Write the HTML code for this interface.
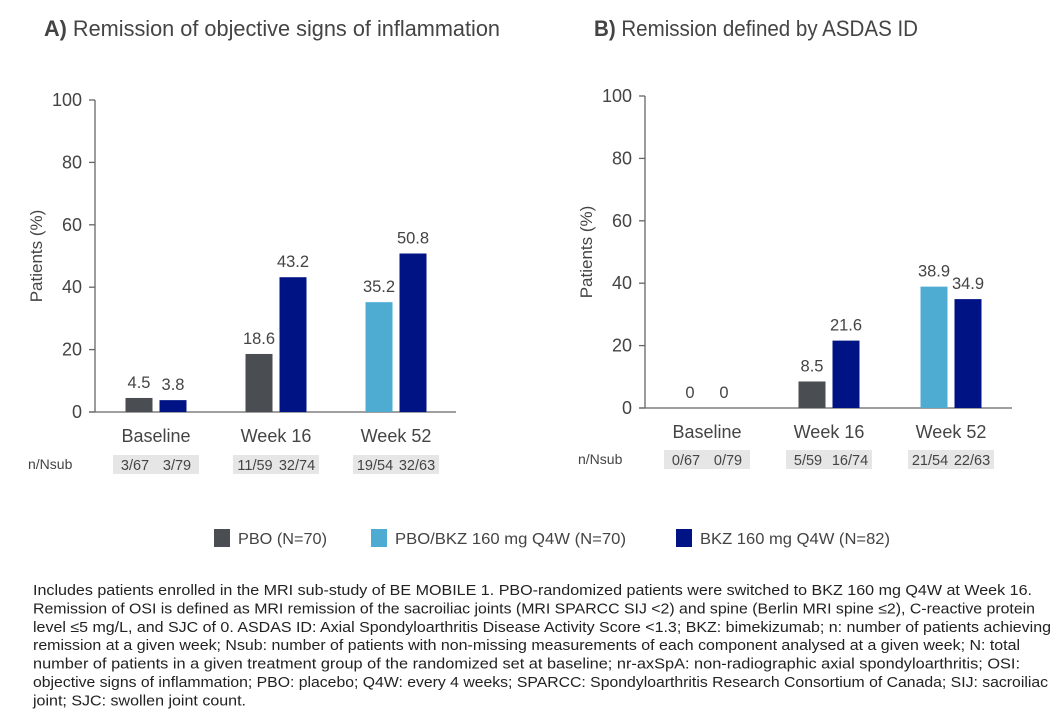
<!DOCTYPE html>
<html><head><meta charset="utf-8"><style>
html,body{margin:0;padding:0;background:#fff;}
svg{display:block;font-family:"Liberation Sans",sans-serif;}
</style></head><body>
<svg id="chart" width="1062" height="720" viewBox="0 0 1062 720">
<text x="44" y="36" font-size="22" fill="#444" textLength="456" lengthAdjust="spacingAndGlyphs"><tspan font-weight="bold">A)</tspan> Remission of objective signs of inflammation</text>
<text x="594" y="36" font-size="22" fill="#444" textLength="324" lengthAdjust="spacingAndGlyphs"><tspan font-weight="bold">B)</tspan> Remission defined by ASDAS ID</text>
<g id="pa"></g>
<g id="pb"></g>
<g>
<g><rect x="214" y="529" width="16" height="18" fill="#4a4d52"/><text x="238" y="544" font-size="16" fill="#444" textLength="89" lengthAdjust="spacingAndGlyphs">PBO (N=70)</text></g>
<g><rect x="371" y="529" width="16" height="18" fill="#4eacd3"/><text x="395" y="544" font-size="16" fill="#444" textLength="231" lengthAdjust="spacingAndGlyphs">PBO/BKZ 160 mg Q4W (N=70)</text></g>
<g><rect x="676" y="529" width="16" height="18" fill="#001385"/><text x="700" y="544" font-size="16" fill="#444" textLength="190" lengthAdjust="spacingAndGlyphs">BKZ 160 mg Q4W (N=82)</text></g>
</g>
<g font-size="14.5" fill="#222">
<text x="33" y="595" textLength="999" lengthAdjust="spacingAndGlyphs">Includes patients enrolled in the MRI sub-study of BE MOBILE 1. PBO-randomized patients were switched to BKZ 160 mg Q4W at Week 16.</text>
<text x="33" y="613.4" textLength="1002" lengthAdjust="spacingAndGlyphs">Remission of OSI is defined as MRI remission of the sacroiliac joints (MRI SPARCC SIJ &lt;2) and spine (Berlin MRI spine ≤2), C-reactive protein</text>
<text x="33" y="631.8" textLength="1018" lengthAdjust="spacingAndGlyphs">level ≤5 mg/L, and SJC of 0. ASDAS ID: Axial Spondyloarthritis Disease Activity Score &lt;1.3; BKZ: bimekizumab; n: number of patients achieving</text>
<text x="33" y="650.2" textLength="987" lengthAdjust="spacingAndGlyphs">remission at a given week; Nsub: number of patients with non-missing measurements of each component analysed at a given week; N: total</text>
<text x="33" y="668.6" textLength="987" lengthAdjust="spacingAndGlyphs">number of patients in a given treatment group of the randomized set at baseline; nr-axSpA: non-radiographic axial spondyloarthritis; OSI:</text>
<text x="33" y="687" textLength="1015" lengthAdjust="spacingAndGlyphs">objective signs of inflammation; PBO: placebo; Q4W: every 4 weeks; SPARCC: Spondyloarthritis Research Consortium of Canada; SIJ: sacroiliac</text>
<text x="33" y="705.4" textLength="213" lengthAdjust="spacingAndGlyphs">joint; SJC: swollen joint count.</text>
</g>
</svg>
<script>
const categories = ["Baseline","Week 16","Week 52"];
const seriesColors = ["#4a4d52","#4eacd3","#001385"];
const aFirst = [4.5, 18.6, 35.2];
const aFirstSeries = [0, 0, 1];
const aSecond = [3.8, 43.2, 50.8];
const aCounts = [["3/67","3/79"],["11/59","32/74"],["19/54","32/63"]];
const bFirst = [0, 8.5, 38.9];
const bFirstSeries = [0, 0, 1];
const bSecond = [0, 21.6, 34.9];
const bCounts = [["0/67","0/79"],["5/59","16/74"],["21/54","22/63"]];
const yTicks = [0,20,40,60,80,100];

const NS="http://www.w3.org/2000/svg";
function mk(parent, tag, attrs, txt){
  const e=document.createElementNS(NS,tag);
  for(const k in attrs) e.setAttribute(k,attrs[k]);
  if(txt!==undefined) e.textContent=txt;
  parent.appendChild(e); return e;
}
function panel(gid, cfg, first, firstSeries, second, counts, key){
  const g=document.getElementById(gid);
  const y=v=>cfg.y0-(cfg.y0-cfg.y100)*v/100;
  const x=i=>cfg.c0+cfg.step*i;
  const ax=mk(g,"line",{x1:cfg.ax,y1:y(100),x2:cfg.ax,y2:y(0),stroke:"#666","stroke-width":1.3});
  
  
  const xa=mk(g,"line",{x1:cfg.ax-6,y1:y(0),x2:cfg.xr,y2:y(0),stroke:"#666","stroke-width":1.3});
  
  
  yTicks.forEach(t=>{
    mk(g,"line",{x1:cfg.ax-6,y1:y(t),x2:cfg.ax,y2:y(t),stroke:"#666","stroke-width":1.3});
    const tl=mk(g,"text",{x:cfg.ax-13,y:y(t)+6,"font-size":18,fill:"#444","text-anchor":"end"},String(t));
    
    
  });
  const yt=mk(g,"text",{x:0,y:0,"font-size":17,fill:"#444","text-anchor":"middle",transform:`translate(${cfg.ax-53},${y(50)}) rotate(-90)`},"Patients (%)");
  
  
  const nl=mk(g,"text",{x:cfg.nx,y:cfg.by+14,"font-size":14,fill:"#444"},"n/Nsub");
  
  
  const bw=27, gap=7;
  categories.forEach((c,i)=>{
    const cx=x(i);
    const vals=[first[i],second[i]], cols=[seriesColors[firstSeries[i]],seriesColors[2]];
    vals.forEach((v,j)=>{
      const bx=j===0?cx-gap/2-bw:cx+gap/2;
      const r=mk(g,"rect",{x:bx,y:y(v),width:bw,height:y(0)-y(v),fill:cols[j]});
      
      
      const vl=mk(g,"text",{x:bx+bw/2,y:y(v)-10,"font-size":16.5,fill:"#444","text-anchor":"middle"},String(v));
      
      
    });
    const cl=mk(g,"text",{x:cx,y:cfg.cy,"font-size":18,fill:"#444","text-anchor":"middle"},c);
    
    
    const bx=mk(g,"rect",{x:cx-43,y:cfg.by,width:86,height:19,fill:"#e6e6e6"});
    
    
    counts[i].forEach((t,j)=>{
      const ct=mk(g,"text",{x:cx+(j?21:-21),y:cfg.by+15,"font-size":14.5,fill:"#444","text-anchor":"middle"},t);
      
      
    });
  });
}
panel("pa",{ax:95,xr:456,y0:412,y100:100,c0:156,step:120,cy:442,by:455,nx:28},aFirst,aFirstSeries,aSecond,aCounts,"a");
panel("pb",{ax:645,xr:1012,y0:408,y100:96,c0:707,step:122,cy:438,by:450,nx:578},bFirst,bFirstSeries,bSecond,bCounts,"b");
</script>
</body></html>
